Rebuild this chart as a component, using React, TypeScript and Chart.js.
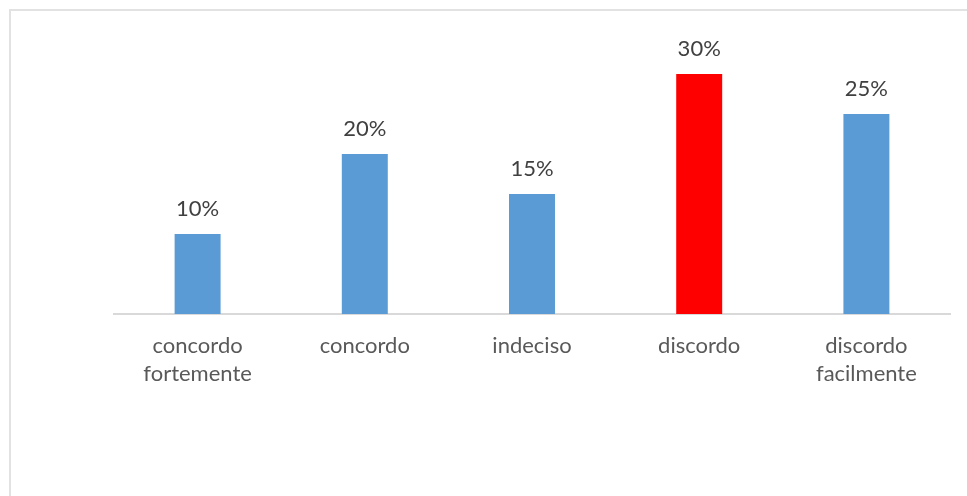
import React, { useEffect, useRef } from "react";
import { Chart, registerables } from "chart.js";

Chart.register(...registerables);

const categories: string[][] = [
  ["concordo", "fortemente"],
  ["concordo"],
  ["indeciso"],
  ["discordo"],
  ["discordo", "facilmente"],
];
const values: number[] = [10, 20, 15, 30, 25];
const barColors: string[] = ["#5B9BD5", "#5B9BD5", "#5B9BD5", "#FF0000", "#5B9BD5"];

const FONT = "Lato, 'Liberation Sans', sans-serif";

const valueLabels = {
  id: "valueLabels",
  afterDatasetsDraw(chart: any) {
    const ctx = chart.ctx;
    const meta = chart.getDatasetMeta(0);
    ctx.save();
    ctx.font = `22px ${FONT}`;
    ctx.fillStyle = "#404040";
    ctx.textAlign = "center";
    ctx.textBaseline = "alphabetic";
    meta.data.forEach((bar: any, i: number) => {
      ctx.fillText(`${values[i]}%`, bar.x, bar.y - 18);
    });
    ctx.restore();
  },
};

export default function App() {
  const ref = useRef<HTMLCanvasElement>(null);
  useEffect(() => {
    if (!ref.current) return;
    const chart = new Chart(ref.current, {
      type: "bar",
      data: {
        labels: categories,
        datasets: [
          {
            data: values,
            backgroundColor: barColors,
            borderWidth: 0,
            categoryPercentage: 1,
            barPercentage: 0.275,
          },
        ],
      },
      options: {
        animation: false,
        responsive: false,
        maintainAspectRatio: false,
        layout: { padding: { left: 114, right: 17, top: 34, bottom: 82 } },
        plugins: { legend: { display: false }, tooltip: { enabled: false } },
        scales: {
          y: { display: false, min: 0, max: 35 },
          x: {
            grid: { display: false, drawTicks: false },
            border: { display: true, color: "#d9d9d9", width: 2 },
            ticks: {
              color: "#595959",
              padding: 18,
              maxRotation: 0,
              autoSkip: false,
              font: { family: FONT, size: 22, lineHeight: 1.27 },
            },
            afterFit: (scale: any) => {
              scale.height = 100;
            },
          },
        },
      },
      plugins: [valueLabels],
    });
    return () => chart.destroy();
  }, []);
  return (
    <div>
      <div
        style={{
          position: "fixed",
          left: 9,
          top: 9,
          width: 1000,
          height: 1000,
          border: "2px solid #e2e2e2",
          background: "#fff",
        }}
      />
      <canvas
        ref={ref}
        width={967}
        height={496}
        style={{ position: "fixed", left: 0, top: 0, width: 967, height: 496 }}
      />
    </div>
  );
}
